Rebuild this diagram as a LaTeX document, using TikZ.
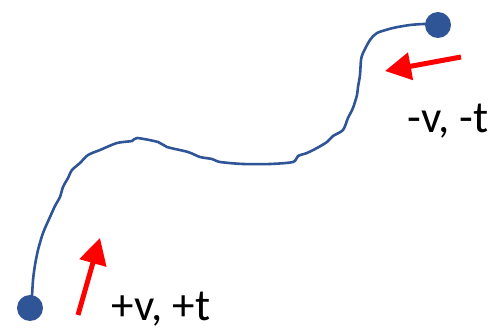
\documentclass[tikz,border=0pt]{standalone}
\usepackage{fontspec}
\setmainfont{Carlito}
\usetikzlibrary{arrows.meta}
\definecolor{pathblue}{HTML}{2F5597}
\tikzset{
  dot/.style={circle,fill=pathblue,inner sep=0pt,minimum size=26pt},
  wavy/.style={pathblue,line width=2.6pt,line join=round,line cap=round},
  redarrow/.style={red,line width=5pt,-{Triangle[length=26pt,width=27pt]}},
  lbl/.style={font=\fontsize{45}{45}\selectfont,anchor=base,inner sep=0pt}
}
\begin{document}
\begin{tikzpicture}[x=1pt,y=-1pt]
\useasboundingbox (0,0) rectangle (491,331);
\draw[wavy] plot[smooth,tension=0.45] coordinates{
(30,308) (32,295) (33,280) (35,265) (38,250) (43,233) (50,217) (55,206) (60,197) (63,187) (68,178) (72,170) (80,163) (88,155) (100,150) (117,143) (132,141) (137,138) (158,142) (167,147) (188,152) (200,157) (212,159) (220,162) (243,164) (270,164) (293,162) (298,156) (307,153) (317,148) (327,142) (333,136) (343,130) (348,118) (353,108) (357,95) (358,87) (360,75) (361,60) (363,53) (370,40) (377,33) (393,28) (410,25) (425,24) (438,25)};
\node[dot] (s) at (30,308) {};
\node[dot] (e) at (438,25) {};
\coordinate (a1t) at (78,315);
\coordinate (a1h) at (100,238);
\coordinate (a2t) at (461,57);
\coordinate (a2h) at (385,71);
\draw[redarrow] (a1t) -- (a1h);
\draw[redarrow] (a2t) -- (a2h);
\node[lbl] (l1) at (161,321) {+v, +t};
\node[lbl] (l2) at (448,133) {-v, -t};
\end{tikzpicture}
\end{document}
